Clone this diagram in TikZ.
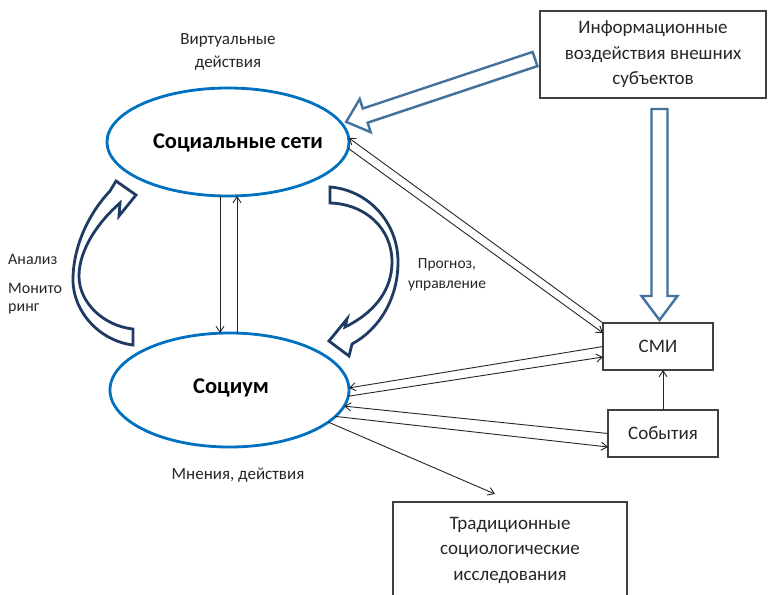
\documentclass[tikz,border=0pt]{standalone}
\usepackage{fontspec}
\setmainfont{Carlito}
\usetikzlibrary{shapes.geometric,arrows.meta,calc}
\definecolor{ellblue}{HTML}{0070C0}
\definecolor{hollowblue}{HTML}{41719C}
\definecolor{navyc}{HTML}{1F3B63}
\definecolor{txt}{HTML}{262626}
\definecolor{boxline}{HTML}{404040}
\begin{document}
\begin{tikzpicture}[x=1pt,y=-1pt,
 ell/.style={ellipse, draw=ellblue, line width=2.8pt, inner sep=0pt, outer sep=0pt},
 elltext/.style={font=\fontsize{22.5}{26}\selectfont\bfseries, text=black, inner sep=0pt},
 box/.style={draw=boxline, line width=1.3pt, inner sep=0pt, outer sep=0pt, align=center, font=\fontsize{19}{25.5}\selectfont, text=txt},
 lbl/.style={font=\fontsize{15.5}{20}\selectfont, text=txt, align=center, inner sep=0pt},
 biglbl/.style={lbl, font=\fontsize{17}{23}\selectfont},
 conn/.style={draw=black!85, line width=0.9pt, -{Straight Barb[length=6pt,width=8pt,line width=0.9pt]}},
 hollow/.style={draw=hollowblue, line width=2.4pt, fill=white, line join=miter},
 curved/.style={draw=navyc, line width=2.8pt, fill=white, line join=miter}]

\useasboundingbox (0,0) rectangle (770,594);
\fill[white] (0,0) rectangle (770,594);

% ellipses
\node[ell, minimum width=242pt, minimum height=108pt] (sn) at (228,142) {};
\node[elltext] (snt) at (238,143) {Социальные сети};
\node[ell, minimum width=239pt, minimum height=114pt] (soc) at (229.5,390) {};
\node[elltext] (soct) at (231,388) {Социум};

% boxes
\node[box, minimum width=226pt, minimum height=87pt] (info) at (653,54.5) {Информационные\\воздействия внешних\\субъектов};
\node[box, minimum width=110pt, minimum height=47pt] (smi) at (658,346.5) {СМИ};
\node[box, minimum width=110pt, minimum height=47pt] (ev) at (663,433.5) {События};
\node[box, minimum width=234pt, minimum height=96pt] (trad) at (510,550) {Традиционные\\социологические\\исследования};

% labels
\node[biglbl] (virt) at (228,52) {Виртуальные\\действия};
\node[lbl, anchor=west, font=\fontsize{16}{18}\selectfont] (anal) at (8,259) {Анализ};
\node[lbl, anchor=west, align=left, font=\fontsize{16}{18}\selectfont] (mon) at (8,299) {Монито\\ринг};
\node[lbl] (prog) at (447,275) {Прогноз,\\управление};
\node[biglbl] (mnen) at (238,475) {Мнения, действия};

% curved block arrows
\draw[curved] (133,345) .. controls (100,341) and (73,312) .. (73,280)
  .. controls (73,245) and (90,212) .. (110,191) -- (116,181) -- (136,195) -- (119,216) -- (120,203)
  .. controls (98,222) and (79,250) .. (79,276) .. controls (79,303) and (104,326) .. (133,329) -- cycle;
\draw[curved] (330,187) .. controls (368,190) and (398,222) .. (398,262)
  .. controls (398,300) and (378,330) .. (352,344) -- (349,356) -- (329,341) -- (347,319) -- (345,327)
  .. controls (372,314) and (392,292) .. (392,262) .. controls (392,228) and (365,204) .. (330,203) -- cycle;

% hollow block arrows
\draw[hollow] (532.6,51.9) -- (362.8,108.5) -- (359.7,99.0) -- (346.2,121.9) -- (370.7,132.2) -- (367.6,122.7) -- (537.4,66.1) -- cycle;
\draw[hollow] (651.5,109) -- (651.5,296) -- (641.5,296) -- (659.5,320) -- (677.5,296) -- (667.5,296) -- (667.5,109) -- cycle;

% connectors
\draw[conn] (smi.north west) -- (sn.2);
\draw[conn] (sn.-3) -- ([yshift=13.5pt]smi.west);
\draw[conn] ([xshift=-8pt]sn.south) -- ([xshift=-9.5pt]soc.north);
\draw[conn] ([xshift=7.5pt]soc.north) -- ([xshift=9pt]sn.south);
\draw[conn] (smi.west) -- (soc.1);
\draw[conn] (soc.-3) -- ([yshift=-10.5pt]smi.west);
\draw[conn] (ev.west) -- (soc.-8);
\draw[conn] (soc.-14) -- ([yshift=-13.5pt]ev.west);
\draw[conn] (soc.-18) -- ($(trad.north)+(-15,-8)$);
\draw[conn] (ev.north) -- (ev.north |- smi.south);
\end{tikzpicture}
\end{document}
